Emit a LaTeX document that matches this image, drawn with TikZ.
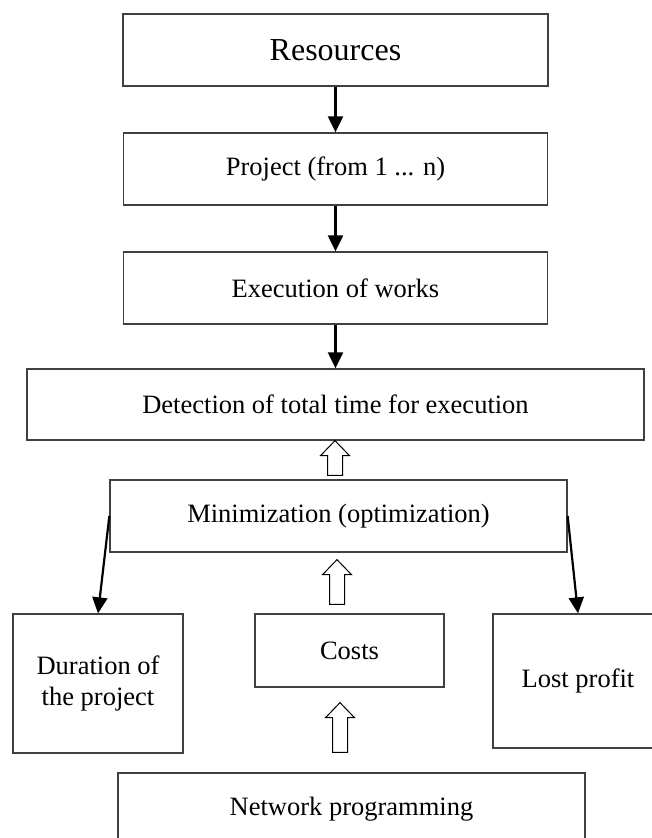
\documentclass[tikz,border=0pt]{standalone}
\usepackage{fontspec}
\setmainfont{Liberation Serif}
\usepackage{tikz}
\usetikzlibrary{arrows.meta, positioning, calc}
\tikzstyle{arrow} = [line width=2.2pt,-{Triangle[length=16pt,width=15pt]}]
\tikzstyle{block} = [rectangle, inner sep=0pt, text centered, align=center, draw=black!75, line width=1.3pt, font=\fontsize{26.5}{31}\selectfont]
\tikzstyle{hollow} = [draw=black, line width=1pt, fill=white]
% hollow block arrow pointing up from tail (#1) to the height of (#2)
\newcommand{\hollowup}[2]{%
  \draw[hollow] let \p1=(#1), \p2=(#2) in
    (\x1-7.5pt,\y1) -- (\x1-7.5pt,\y2-15pt) -- (\x1-14.5pt,\y2-15pt) -- (\x1,\y2)
    -- (\x1+14.5pt,\y2-15pt) -- (\x1+7.5pt,\y2-15pt) -- (\x1+7.5pt,\y1) -- cycle;}

\begin{document}
\begin{tikzpicture}[node distance=119pt, x=1pt, y=1pt]
\useasboundingbox (0,0) rectangle (652,-838);

% Nodes of the scheme
\node (res) [block, minimum width=425pt, minimum height=72pt, font=\fontsize{32}{38}\selectfont] at (335.5,-50) {Resources};
\node (proj) [block, minimum width=424pt, minimum height=72pt, below of=res] {Project (from 1 ... n)};
\node (exec) [block, minimum width=424pt, minimum height=72pt, below of=proj] {Execution of works};
\node (det) [block, minimum width=617pt, minimum height=71pt, below of=exec, yshift=2.5pt] {Detection of total time for execution};
\node (mini) [block, minimum width=457pt, minimum height=72pt, below of=det, yshift=7.5pt, xshift=3pt] {Minimization (optimization)};
\node (costs) [block, minimum width=189pt, minimum height=73pt, below of=mini, yshift=-15.5pt, xshift=11pt] {Costs};
\node (dur) [block, minimum width=170pt, minimum height=139pt, left of=costs, xshift=-132.5pt, yshift=-33pt] {Duration of\\the project};
\node (lost) [block, minimum width=170pt, minimum height=134pt, right of=costs, xshift=109.5pt, yshift=-30.5pt] {Lost profit};
\node (net) [block, minimum width=467pt, minimum height=72pt, below of=costs, yshift=-39.5pt, xshift=2pt] {Network programming};

% Ends of the hollow arrows
\coordinate (t1) at ([xshift=-3.5pt, yshift=4pt]mini.north);
\coordinate (h1) at (det.south);
\coordinate (t2) at ([xshift=-12.5pt, yshift=9pt]costs.north);
\coordinate (h2) at ([yshift=-7pt]mini.south);
\coordinate (t3) at ([xshift=-11.5pt, yshift=20pt]net.north);
\coordinate (h3) at ([yshift=-15pt]costs.south);

% Connecting the nodes
\draw [arrow] (res) -- (proj);
\draw [arrow] (proj) -- (exec);
\draw [arrow] (exec) -- (det);
\draw [arrow] (mini.west) -- (dur.north);
\draw [arrow] (mini.east) -- (lost.north);
\hollowup{t1}{h1}
\hollowup{t2}{h2}
\hollowup{t3}{h3}

\end{tikzpicture}
\end{document}
